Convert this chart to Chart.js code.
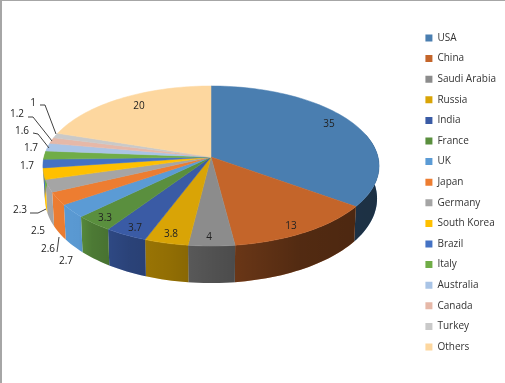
<!DOCTYPE html>
<html>
<head>
<meta charset="utf-8">
<script src="https://cdn.jsdelivr.net/npm/chart.js@4"></script>
<style>
html, body { margin: 0; padding: 0; background: #fff; }
#wrap { width: 505px; height: 383px; }
</style>
</head>
<body>
<div id="wrap"><canvas id="myChart" width="505" height="383"></canvas></div>
<script>
const countries = ['USA', 'China', 'Saudi Arabia', 'Russia', 'India', 'France', 'UK', 'Japan',
    'Germany', 'South Korea', 'Brazil', 'Italy', 'Australia', 'Canada', 'Turkey', 'Others'];
const shares = [35, 13, 4, 3.8, 3.7, 3.3, 2.7, 2.6, 2.5, 2.3, 1.7, 1.7, 1.6, 1.2, 1, 20];
const sliceColors = ['#4a7eb0', '#c4652a', '#8c8c8c', '#d9a406', '#3a5ba5', '#5a8f3e', '#5b9bd5', '#ed7d31',
    '#a5a5a5', '#ffc000', '#4472c4', '#70ad47', '#a9c4e6', '#e6b8a8', '#c9c9c9', '#fdd79f'];

// where the value labels sit, same order as shares
const labelSpots = [[329, 124], [291, 226], [209, 237], [171, 234], [135, 228], [105, 218], [66, 261], [48, 249],
    [38, 231], [20, 210], [27, 166], [31, 148], [22, 131], [17, 114], [33, 103], [139, 106]];
const leaderLines = [
    [[40, 105], [45, 105], [56, 134]],
    [[28, 117], [33, 117], [52, 141]],
    [[33, 133], [38, 134], [49, 148]],
    [[30, 213], [38, 213], [46, 209]],
    [[57, 252], [59, 237]]
];

// Excel draws the pie with perspective, so the centre is not the middle of the ellipse
const pieX = 211, pieY = 157, pieR = 167, pieA = 79, pieTilt = -0.1125;

function rimPoint(angle, r) {
    let u = Math.cos(angle) * r, v = Math.sin(angle) * r;
    let d = 1 + pieTilt * v;
    return [pieX + pieR * u / d, pieY + pieA * v / d];
}

function floorPoint(angle) {
    let p = rimPoint(angle, 1);
    let depth = 32 + 5 * Math.max(Math.sin(angle), 0);
    return [pieX + (p[0] - pieX) * 0.988, p[1] + depth];
}

function arcPoints(start, end, fn) {
    let pts = [];
    let steps = Math.max(2, Math.ceil((end - start) / 0.03));
    for (let i = 0; i <= steps; i++) {
        pts.push(fn(start + (end - start) * i / steps));
    }
    return pts;
}

function tracePath(ctx, pts) {
    ctx.beginPath();
    pts.forEach((p, i) => i ? ctx.lineTo(p[0], p[1]) : ctx.moveTo(p[0], p[1]));
    ctx.closePath();
}

const pie3d = {
    id: 'pie3d',
    beforeDraw(chart) {
        let ctx = chart.ctx;
        ctx.fillStyle = '#a6a6a6';
        ctx.fillRect(0, 0, chart.width, 1);
        ctx.fillRect(0, 0, 2, chart.height);
    },
    beforeDatasetsDraw(chart) {
        let ctx = chart.ctx;
        let arcs = chart.getDatasetMeta(0).data;

        // front wall, darker towards the right
        let shade = ctx.createLinearGradient(45, 0, 380, 0);
        shade.addColorStop(0, 'rgba(0,0,0,0)');
        shade.addColorStop(0.1, 'rgba(0,0,0,0.02)');
        shade.addColorStop(0.14, 'rgba(0,0,0,0.15)');
        shade.addColorStop(0.25, 'rgba(0,0,0,0.27)');
        shade.addColorStop(0.37, 'rgba(0,0,0,0.33)');
        shade.addColorStop(0.5, 'rgba(0,0,0,0.42)');
        shade.addColorStop(0.76, 'rgba(0,0,0,0.58)');
        shade.addColorStop(1, 'rgba(0,0,0,0.62)');
        arcs.forEach((arc, i) => {
            let start = Math.max(arc.startAngle, -0.3);
            let end = Math.min(arc.endAngle, Math.PI + 0.3);
            if (end <= start) return;
            let top = arcPoints(start, end, a => rimPoint(a, 1));
            let bottom = arcPoints(start, end, floorPoint).reverse();
            tracePath(ctx, top.concat(bottom));
            ctx.fillStyle = sliceColors[i];
            ctx.fill();
            ctx.fillStyle = shade;
            ctx.fill();
        });

        // top face
        arcs.forEach((arc, i) => {
            let pts = [[pieX, pieY]].concat(arcPoints(arc.startAngle, arc.endAngle, a => rimPoint(a, 1)));
            tracePath(ctx, pts);
            ctx.fillStyle = sliceColors[i];
            ctx.fill();
            ctx.strokeStyle = sliceColors[i];
            ctx.lineWidth = 0.5;
            ctx.stroke();
        });

        // leader lines and value labels
        ctx.strokeStyle = '#404040';
        ctx.lineWidth = 1;
        leaderLines.forEach(line => {
            ctx.beginPath();
            line.forEach((p, i) => i ? ctx.lineTo(p[0], p[1]) : ctx.moveTo(p[0], p[1]));
            ctx.stroke();
        });
        ctx.font = '10px "Open Sans"';
        ctx.fillStyle = '#222';
        ctx.textAlign = 'center';
        ctx.textBaseline = 'middle';
        shares.forEach((value, i) => {
            ctx.fillText(String(value), labelSpots[i][0], labelSpots[i][1]);
        });
        return false;
    }
};

let ctx1 = document.getElementById('myChart').getContext('2d');
let myChart = new Chart(ctx1, {
    type: 'pie',
    data: {
        labels: countries,
        datasets: [{
            data: shares,
            backgroundColor: sliceColors,
            borderWidth: 0
        }]
    },
    plugins: [pie3d],
    options: {
        responsive: false,
        animation: false,
        layout: {
            padding: { right: -1, top: 2 }
        },
        plugins: {
            tooltip: { enabled: false },
            legend: {
                position: 'right',
                labels: {
                    boxWidth: 7,
                    boxHeight: 7,
                    padding: 10.6,
                    color: '#333',
                    font: { family: '"Open Sans"', size: 10 }
                }
            }
        }
    }
});
</script>
</body>
</html>
